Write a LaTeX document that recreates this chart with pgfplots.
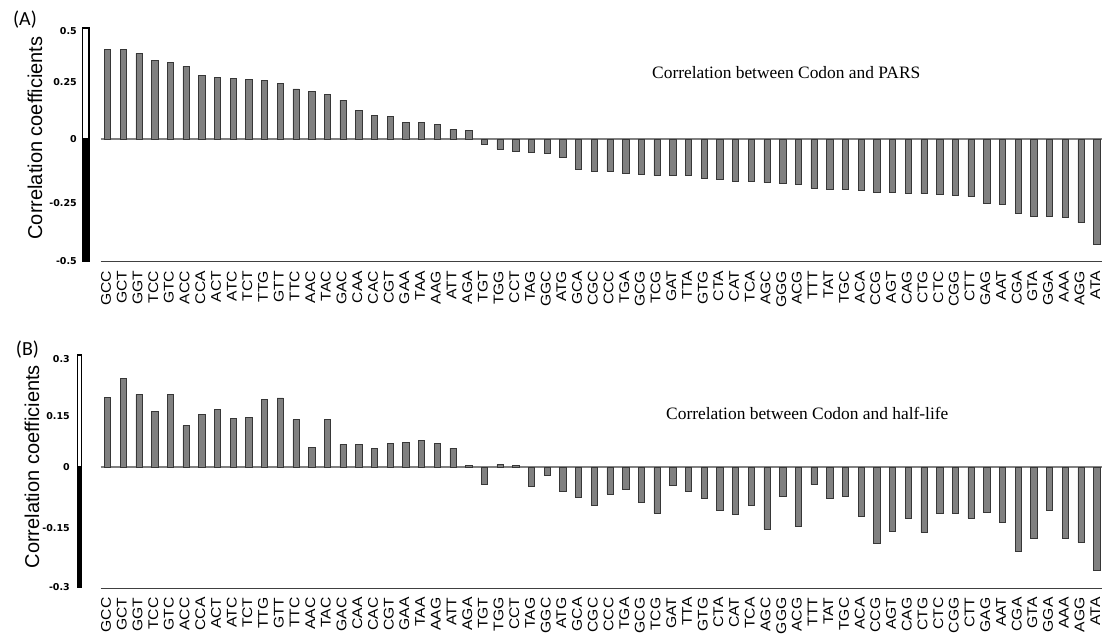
\documentclass[border=0pt]{standalone}
\usepackage{pgfplots}
\usepackage{pgfplotstable}
\pgfplotsset{compat=1.18}
\usepackage{fontspec}
\setmainfont{Liberation Sans}
\newfontfamily\codonfont{Liberation Sans}[FakeStretch=1.12]
\newfontfamily\tickfont{DejaVu Sans}
\newfontfamily\titlefont{Liberation Serif}
\newfontfamily\labfont{Carlito}
\definecolor{barfill}{RGB}{128,128,128}
\definecolor{baredge}{RGB}{55,55,55}
\definecolor{zeroline}{RGB}{128,128,128}
\definecolor{axisline}{RGB}{64,64,64}

\pgfplotstableread{
idx codon val
0 GCC 0.390
1 GCT 0.390
2 GGT 0.372
3 TCC 0.341
4 GTC 0.333
5 ACC 0.316
6 CCA 0.278
7 ACT 0.268
8 ATC 0.264
9 TCT 0.260
10 TTG 0.253
11 GTT 0.242
12 TTC 0.218
13 AAC 0.206
14 TAC 0.195
15 GAC 0.169
16 CAA 0.126
17 CAC 0.104
18 CGT 0.098
19 GAA 0.072
20 TAA 0.072
21 AAG 0.063
22 ATT 0.043
23 AGA 0.039
24 TGT -0.022
25 TGG -0.044
26 CCT -0.053
27 TAG -0.057
28 GGC -0.061
29 ATG -0.080
30 GCA -0.129
31 CGC -0.139
32 CCC -0.139
33 TGA -0.146
34 GCG -0.150
35 TCG -0.157
36 GAT -0.157
37 TTA -0.157
38 GTG -0.170
39 CTA -0.175
40 CAT -0.183
41 TCA -0.183
42 AGC -0.188
43 GGG -0.192
44 ACG -0.195
45 TTT -0.211
46 TAT -0.215
47 TGC -0.215
48 ACA -0.219
49 CCG -0.228
50 AGT -0.231
51 CAG -0.235
52 CTG -0.235
53 CTC -0.240
54 CGG -0.244
55 CTT -0.248
56 GAG -0.277
57 AAT -0.280
58 CGA -0.320
59 GTA -0.335
60 GGA -0.335
61 AAA -0.338
62 AGG -0.361
63 ATA -0.456
}\tabA

\pgfplotstableread{
idx codon val
0 GCC 0.179
1 GCT 0.227
2 GGT 0.186
3 TCC 0.143
4 GTC 0.186
5 ACC 0.106
6 CCA 0.135
7 ACT 0.147
8 ATC 0.125
9 TCT 0.128
10 TTG 0.174
11 GTT 0.177
12 TTC 0.121
13 AAC 0.051
14 TAC 0.121
15 GAC 0.058
16 CAA 0.058
17 CAC 0.048
18 CGT 0.061
19 GAA 0.063
20 TAA 0.068
21 AAG 0.061
22 ATT 0.048
23 AGA 0.003
24 TGT -0.045
25 TGG 0.006
26 CCT 0.004
27 TAG -0.049
28 GGC -0.021
29 ATG -0.063
30 GCA -0.078
31 CGC -0.098
32 CCC -0.070
33 TGA -0.057
34 GCG -0.091
35 TCG -0.119
36 GAT -0.047
37 TTA -0.063
38 GTG -0.081
39 CTA -0.111
40 CAT -0.122
41 TCA -0.098
42 AGC -0.160
43 GGG -0.075
44 ACG -0.153
45 TTT -0.045
46 TAT -0.081
47 TGC -0.075
48 ACA -0.127
49 CCG -0.196
50 AGT -0.165
51 CAG -0.132
52 CTG -0.168
53 CTC -0.119
54 CGG -0.119
55 CTT -0.132
56 GAG -0.117
57 AAT -0.143
58 CGA -0.216
59 GTA -0.184
60 GGA -0.111
61 AAA -0.183
62 AGG -0.194
63 ATA -0.266
}\tabB

\pgfplotsset{
  codonaxis/.style={
    scale only axis, width=1001.3pt, anchor=south west,
    xmin=-0.44, xmax=63.34,
    xtick=data,
    axis x line*=bottom, axis y line*=left,
    x axis line style={draw=axisline, line width=1.3pt, -},
    y axis line style={draw=none},
    major tick length=0pt, tick style={draw=none},
    xticklabel style={xshift=-1.5pt, yshift=-9pt, rotate=90, anchor=east, inner sep=0pt,
      font=\codonfont\fontsize{14}{14}\selectfont},
    yticklabel style={inner sep=0pt, anchor=east,
      font=\tickfont\bfseries\fontsize{9.5}{10}\selectfont},
    ybar, bar width=6.3pt,
    clip=false,
  }
}

\begin{document}
\begin{tikzpicture}
\useasboundingbox (0,0) rectangle (1102pt,635pt);

% Panel A
\begin{axis}[codonaxis, at={(100.7pt,373.3pt)}, height=234.7pt,
  ymin=-0.530, ymax=0.486,
  ytick={-0.527,-0.274,0,0.249,0.47},
  yticklabels={-0.5,-0.25,0,0.25,0.5},
  yticklabel style={xshift=-23.7pt},
  xticklabels from table={\tabA}{codon}]
\draw[zeroline, line width=1.8pt] (axis cs:-0.44,0) -- (axis cs:63.34,0);
\addplot[fill=barfill, draw=baredge, line width=0.7pt] table[x=idx, y=val] {\tabA};
\fill[black] ([xshift=-19pt]axis cs:-0.44,0) rectangle ([xshift=-10.7pt]axis cs:-0.44,-0.530);
\draw[black, line width=1.6pt, fill=white] ([xshift=-18.2pt]axis cs:-0.44,0) rectangle ([xshift=-11.5pt,yshift=-0.8pt]axis cs:-0.44,0.486);
\end{axis}

% Panel B
\begin{axis}[codonaxis, at={(100.7pt,46.7pt)}, height=234.3pt,
  ymin=-0.312, ymax=0.290,
  ytick={-0.308,-0.157,0,0.131,0.278},
  yticklabels={-0.3,-0.15,0,0.15,0.3},
  yticklabel style={xshift=-30.7pt},
  xticklabels from table={\tabB}{codon}]
\draw[zeroline, line width=1.8pt] (axis cs:-0.44,0) -- (axis cs:63.34,0);
\addplot[fill=barfill, draw=baredge, line width=0.7pt] table[x=idx, y=val] {\tabB};
\fill[black] ([xshift=-24pt]axis cs:-0.44,0) rectangle ([xshift=-18.5pt]axis cs:-0.44,-0.312);
\draw[black, line width=1.6pt, fill=white] ([xshift=-23.2pt]axis cs:-0.44,0) rectangle ([xshift=-19.3pt,yshift=-0.8pt]axis cs:-0.44,0.290);
\end{axis}

% Titles and labels
\node[anchor=west, inner sep=0pt] at (652pt,562pt) {\titlefont\fontsize{17.4}{20}\selectfont Correlation between Codon and PARS};
\node[anchor=west, inner sep=0pt] at (666pt,222pt) {\titlefont\fontsize{17.4}{20}\selectfont Correlation between Codon and half-life};
\node[rotate=90, inner sep=0pt] at (35pt,497pt) {\fontsize{20}{22}\selectfont Correlation coefficients};
\node[rotate=90, inner sep=0pt] at (32pt,168.3pt) {\fontsize{20}{22}\selectfont Correlation coefficients};
\node[inner sep=0pt] at (25pt,615pt) {\labfont\fontsize{20}{22}\selectfont (A)};
\node[inner sep=0pt] at (27.5pt,285pt) {\labfont\fontsize{20}{22}\selectfont (B)};
\end{tikzpicture}
\end{document}
